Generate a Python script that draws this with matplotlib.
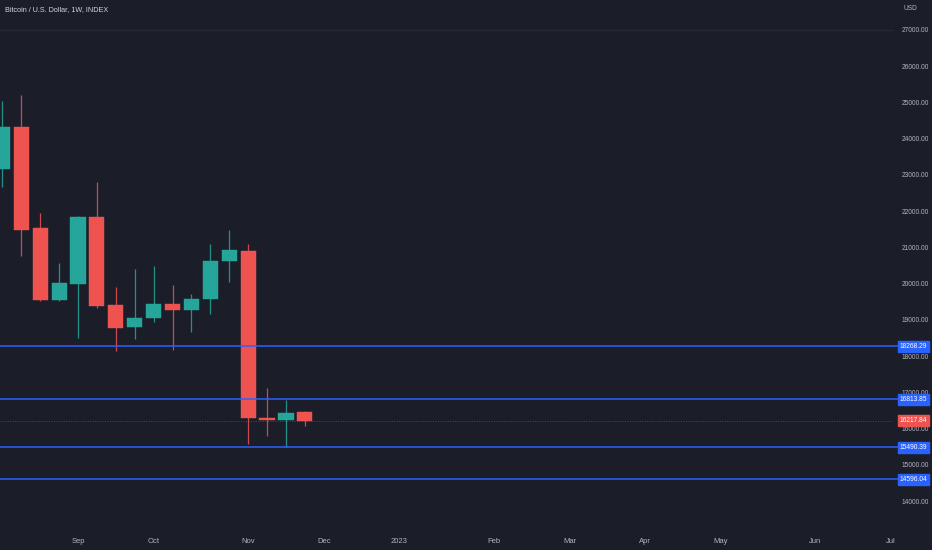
import matplotlib
matplotlib.use('Agg')
import matplotlib.pyplot as plt
import matplotlib.dates as mdates
import matplotlib.transforms as mtransforms
import pandas as pd

# ---------------- data ----------------
dates = ['2022-08-08', '2022-08-15', '2022-08-22', '2022-08-29', '2022-09-05',
         '2022-09-12', '2022-09-19', '2022-09-26', '2022-10-03', '2022-10-10',
         '2022-10-17', '2022-10-24', '2022-10-31', '2022-11-07', '2022-11-14',
         '2022-11-21', '2022-11-28']
opens = [23172, 24331, 21527, 19540, 19998, 21847, 19418, 18795, 19059, 19438,
         19264, 19567, 20624, 20914, 16283, 16236, 16449]
highs = [25049, 25214, 21941, 20561, 21860, 22813, 19915, 20395, 20495, 19962,
         19714, 21094, 21480, 21094, 17111, 16788, 16480]
lows = [22675, 20771, 19530, 19520, 18491, 19335, 18140, 18472, 18949, 18168,
        18673, 19162, 20037, 15574, 15794, 15483, 16070]
closes = [24331, 21488, 19540, 20017, 21847, 19391, 18789, 19059, 19438, 19264,
          19567, 20624, 20920, 16299, 16244, 16421, 16217.84]

levels = [18268.29, 16813.85, 15490.39, 14596.04]
last_price = closes[-1]

month_tick_dates = ['2022-09-05', '2022-10-03', '2022-11-07', '2022-12-05', '2023-01-02',
                    '2023-02-06', '2023-03-06', '2023-04-03', '2023-05-01', '2023-06-05',
                    '2023-07-03']
month_tick_labels = ['Sep', 'Oct', 'Nov', 'Dec', '2023', 'Feb', 'Mar', 'Apr', 'May', 'Jun', 'Jul']
price_ticks = list(range(14000, 28000, 1000))

title = 'Bitcoin / U.S. Dollar, 1W, INDEX'
currency = 'USD'

# ---------------- style ----------------
BG = '#1b1e29'
UP = '#26a69a'
DOWN = '#ef5350'
BLUE = '#2962ff'
TXT = '#b2b5be'
plt.rcParams['font.family'] = ['Liberation Sans', 'DejaVu Sans']

fig = plt.figure(figsize=(9.32, 5.5), dpi=100, facecolor=BG)
ax = fig.add_axes([0, 20 / 550, 893 / 932, 530 / 550])
ax.set_facecolor(BG)

x = mdates.date2num(pd.to_datetime(dates))
width = 5.6
for xi, o, h, l, c in zip(x, opens, highs, lows, closes):
    col = UP if c >= o else DOWN
    ax.vlines(xi, l, h, color=col, lw=0.9, alpha=0.85, zorder=2)
    body = c - o
    ax.bar(xi, body if abs(body) > 0 else 1, bottom=o, width=width, color=col,
           edgecolor=col, lw=0.3, zorder=3)

ax.set_xlim(x[0] - 0.89, x[0] + 329.8)
ax.set_ylim(13200, 27828)

# faint top grid line
ax.axhline(27000, color='#262a37', lw=1, zorder=1)

# last price dotted line
ax.axhline(last_price, color=DOWN, ls=(0, (1, 1.5)), lw=0.7, alpha=0.45, zorder=1)

# horizontal levels
for lv in levels:
    ax.axhline(lv, xmin=0, xmax=1.006, color=BLUE, lw=1.1, zorder=4, clip_on=False)

# ticks
ax.set_xticks(mdates.date2num(pd.to_datetime(month_tick_dates)))
ax.set_xticklabels(month_tick_labels)
ax.yaxis.tick_right()
ax.set_yticks(price_ticks)
ax.set_yticklabels([f'{v:.2f}' for v in price_ticks])
ax.tick_params(axis='x', length=0, pad=6, labelsize=5.5, labelcolor=TXT)
ax.tick_params(axis='y', length=0, pad=6, labelsize=4.8, labelcolor=TXT)
for s in ax.spines.values():
    s.set_visible(False)

# price labels
trans = mtransforms.blended_transform_factory(ax.transAxes, ax.transData)
for lv in levels:
    ax.text(1.0075, lv, f'{lv:.2f}', transform=trans, ha='left', va='center',
            fontsize=4.8, color='white', zorder=6, clip_on=False,
            bbox=dict(boxstyle='square,pad=0.3', fc=BLUE, ec=BLUE))
ax.text(1.0075, last_price, f'{last_price:.2f}', transform=trans, ha='left', va='center',
        fontsize=4.8, color='white', zorder=6, clip_on=False,
        bbox=dict(boxstyle='square,pad=0.3', fc=DOWN, ec=DOWN))

ax.text(1.0 + 11 / 893, 1 - 8 / 530, currency, transform=ax.transAxes, ha='left',
        va='center', fontsize=4.8, color=TXT, clip_on=False)
ax.text(5 / 893, 1 - 10 / 530, title, transform=ax.transAxes, ha='left', va='center',
        fontsize=5.2, color='#d1d4dc')

fig.savefig('out.png', dpi=100, facecolor=BG)
